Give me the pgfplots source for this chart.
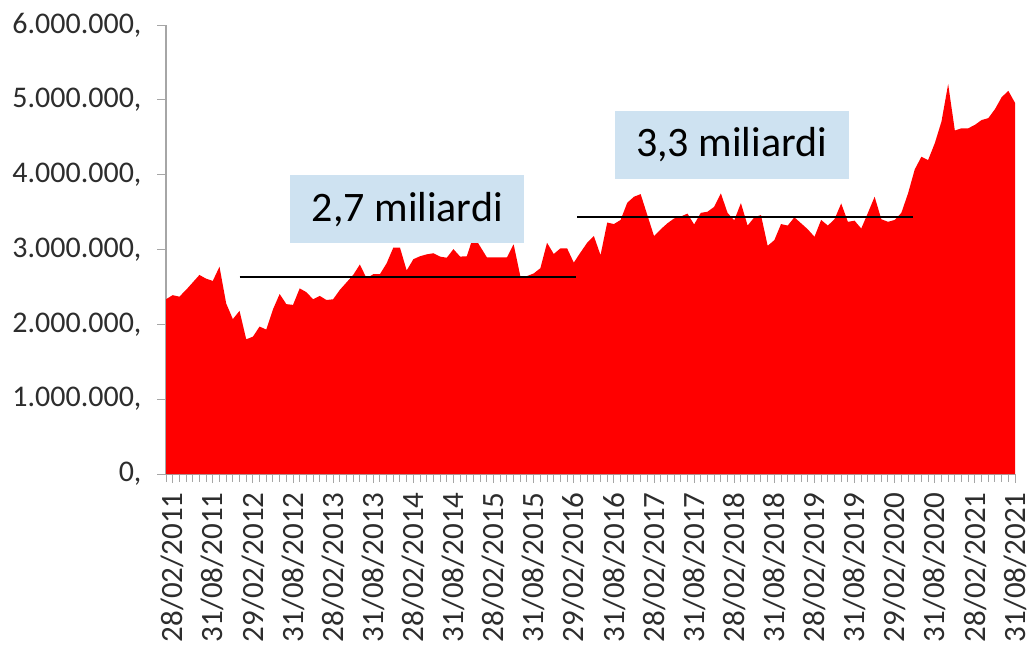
\documentclass[border=0pt]{standalone}
\usepackage{pgfplots}
\pgfplotsset{compat=1.18}
\usepackage{pgfplotstable}
\usepackage{fontspec}
\setmainfont{Carlito}
\definecolor{boxblue}{RGB}{206,226,241}
\definecolor{axgray}{RGB}{166,166,166}
\definecolor{lblgray}{RGB}{45,45,45}
\pgfplotstableread{
k v
0 2335000
1 2390000
2 2370000
3 2460000
4 2560000
5 2660000
6 2610000
7 2580000
8 2770000
9 2280000
10 2070000
11 2180000
12 1800000
13 1835000
14 1970000
15 1930000
16 2200000
17 2405000
18 2270000
19 2260000
20 2480000
21 2430000
22 2335000
23 2380000
24 2325000
25 2335000
26 2460000
27 2560000
28 2660000
29 2800000
30 2615000
31 2670000
32 2670000
33 2815000
34 3025000
35 3025000
36 2720000
37 2870000
38 2910000
39 2935000
40 2950000
41 2905000
42 2890000
43 3005000
44 2905000
45 2910000
46 3185000
47 3040000
48 2895000
49 2895000
50 2895000
51 2895000
52 3070000
53 2645000
54 2645000
55 2680000
56 2750000
57 3090000
58 2940000
59 3015000
60 3015000
61 2825000
62 2960000
63 3090000
64 3180000
65 2925000
66 3360000
67 3340000
68 3395000
69 3625000
70 3705000
71 3740000
72 3460000
73 3180000
74 3270000
75 3350000
76 3415000
77 3440000
78 3480000
79 3335000
80 3490000
81 3505000
82 3570000
83 3750000
84 3490000
85 3390000
86 3620000
87 3320000
88 3430000
89 3460000
90 3050000
91 3125000
92 3340000
93 3320000
94 3430000
95 3350000
96 3270000
97 3170000
98 3395000
99 3320000
100 3405000
101 3615000
102 3370000
103 3385000
104 3280000
105 3490000
106 3705000
107 3405000
108 3370000
109 3395000
110 3490000
111 3750000
112 4070000
113 4240000
114 4195000
115 4420000
116 4710000
117 5210000
118 4590000
119 4620000
120 4620000
121 4665000
122 4730000
123 4755000
124 4875000
125 5035000
126 5120000
127 4960000
}\datatable
\begin{document}
\begin{tikzpicture}[x=1pt,y=1pt]
\path[use as bounding box] (0,0) rectangle (1030,646);
\begin{axis}[
  at={(166pt,172pt)}, anchor=south west,
  width=849pt, height=449pt, scale only axis,
  xmin=0, xmax=127, ymin=0, ymax=6000000,
  axis lines*=left,
  axis line style={axgray, line width=1.3pt},
  tick align=outside,
  major tick length=9pt, minor tick length=8pt,
  tick style={axgray, line width=1pt},
  xtick={1,7,...,127},
  xticklabels={28/02/2011,31/08/2011,29/02/2012,31/08/2012,28/02/2013,31/08/2013,28/02/2014,31/08/2014,28/02/2015,31/08/2015,29/02/2016,31/08/2016,28/02/2017,31/08/2017,28/02/2018,31/08/2018,28/02/2019,31/08/2019,29/02/2020,31/08/2020,28/02/2021,31/08/2021},
  minor xtick={0,...,127},
  ytick={0,1000000,2000000,3000000,4000000,5000000,6000000},
  yticklabels={{0,},{1.000.000,},{2.000.000,},{3.000.000,},{4.000.000,},{5.000.000,},{6.000.000,}},
  scaled y ticks=false,
  tick label style={text=lblgray},
  yticklabel style={font=\fontsize{30}{32}\selectfont, xshift=-12pt},
  xticklabel style={font=\fontsize{31}{33}\selectfont, rotate=90, anchor=east, xshift=-6pt},
  clip=false,
]
\addplot[fill=red, draw=none] table[x=k,y=v]{\datatable} \closedcycle;
\addplot[black, line width=2pt] coordinates {(11,2630000) (61.4,2630000)};
\addplot[black, line width=2pt] coordinates {(61.5,3440000) (111.8,3440000)};
\node[fill=boxblue, minimum width=234pt, minimum height=68pt, inner sep=0pt, font=\fontsize{42}{46}\selectfont] at (axis cs:36.1,3539000) {2,7 miliardi};
\node[fill=boxblue, minimum width=234pt, minimum height=68pt, inner sep=0pt, font=\fontsize{42}{46}\selectfont] at (axis cs:84.6,4397000) {3,3 miliardi};
\end{axis}
\end{tikzpicture}
\end{document}
